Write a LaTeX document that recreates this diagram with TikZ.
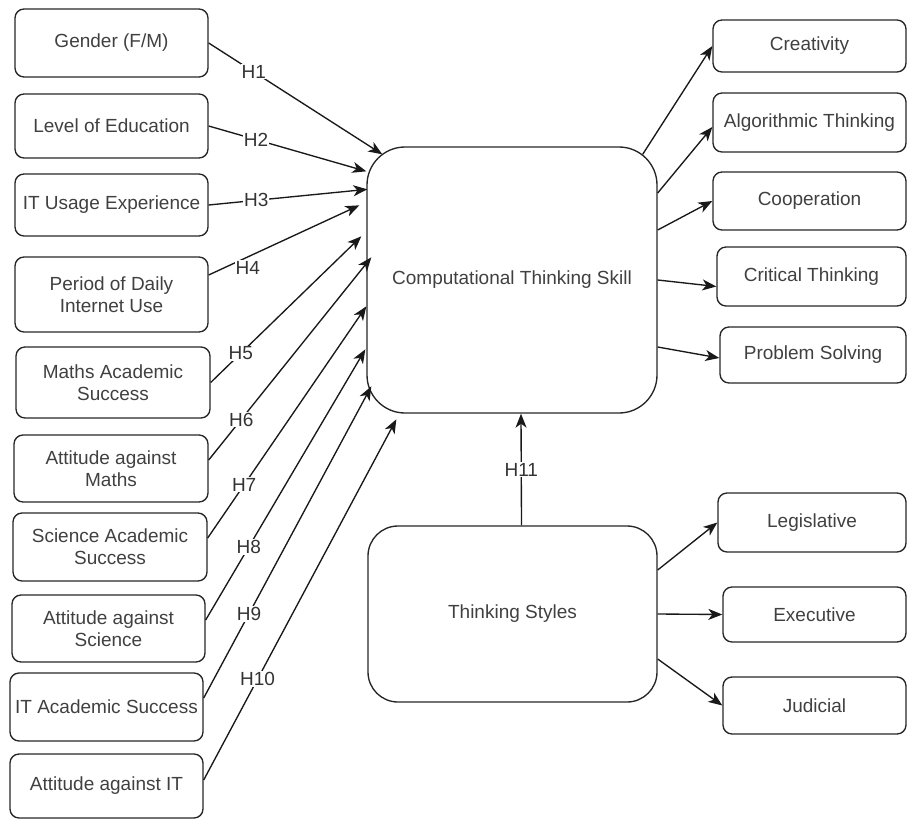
\documentclass[tikz,border=0pt]{standalone}
\usepackage{fontspec}
\setmainfont{Liberation Sans}
\usetikzlibrary{positioning,arrows.meta,calc}

\begin{document}
\begin{tikzpicture}[x=1pt, y=-1pt, font=\fontsize{19}{22}\selectfont,
  >={Stealth[length=14pt, width=11pt, inset=4pt]}, line width=1.35pt,
  box/.style={draw=black!85, rounded corners=9pt, align=center, text=black!75, inner sep=1pt},
  hyp/.style={fill=white, inner sep=1pt, text=black!80},
  link/.style={->, black!90}]
  \useasboundingbox (0,0) rectangle (907,819);
  % factors on the left
  \node[box, minimum width=193, minimum height=68] (gender)   at (111.5,43)  {Gender (F/M)};
  \node[box, minimum width=193, minimum height=64] (edu)      at (111.5,126) {Level of Education};
  \node[box, minimum width=193, minimum height=62] (itexp)    at (111.5,205) {IT Usage Experience};
  \node[box, minimum width=193, minimum height=75] (period)   at (111.5,294.5) {Period of Daily\\Internet Use};
  \node[box, minimum width=194, minimum height=71] (maths)    at (113,382.5) {Maths Academic\\Success};
  \node[box, minimum width=194, minimum height=67] (attmaths) at (111,468.5) {Attitude against\\Maths};
  \node[box, minimum width=194, minimum height=68] (science)  at (110,547)   {Science Academic\\Success};
  \node[box, minimum width=193, minimum height=67] (attsci)   at (108.5,628.5) {Attitude against\\Science};
  \node[box, minimum width=193, minimum height=68] (itacad)   at (106.5,707) {IT Academic Success};
  \node[box, minimum width=193, minimum height=64] (attit)    at (106.5,786) {Attitude against IT};
  % main constructs
  \node[box, rounded corners=38pt, minimum width=290, minimum height=266] (cts) at (512,280) {Computational Thinking Skill};
  \node[box, rounded corners=30pt, minimum width=289, minimum height=176] (ts)  at (512.5,614) {Thinking Styles};
  % sub-skills on the right
  \node[box, minimum width=193, minimum height=52] (creat) at (809.5,46)  {Creativity};
  \node[box, minimum width=193, minimum height=59] (algo)  at (809.5,122.5) {Algorithmic Thinking};
  \node[box, minimum width=193, minimum height=58] (coop)  at (809.5,201) {Cooperation};
  \node[box, minimum width=189, minimum height=59] (crit)  at (811.5,276.5) {Critical Thinking};
  \node[box, minimum width=186, minimum height=56] (prob)  at (813,355)   {Problem Solving};
  \node[box, minimum width=188, minimum height=59] (legis) at (812,522.5) {Legislative};
  \node[box, minimum width=183, minimum height=55] (exec)  at (814.5,614.5) {Executive};
  \node[box, minimum width=183, minimum height=57] (judic) at (814.5,705.5) {Judicial};

  % hypotheses
  \draw[link] (gender.east) -- node[hyp, pos=0.26] (h1) {H1} ($(cts.north west)+(16,8)$);
  \draw[link] (edu.east) -- node[hyp, pos=0.30] (h2) {H2} ($(cts.north west)+(0,25)$);
  \draw[link] (itexp.east) -- node[hyp, pos=0.30] (h3) {H3} ($(cts.north west)+(1,43)$);
  \draw[link] ([yshift=19.5pt]period.east) -- node[hyp, pos=0.26, yshift=-11pt] (h4) {H4} ($(cts.north west)+(-7,59)$);
  \draw[link] (maths.east) -- node[hyp, pos=0.2] (h5) {H5} ($(cts.north west)+(-5,90)$);
  \draw[link] ([yshift=8.5pt]attmaths.east) -- node[hyp, pos=0.2] (h6) {H6} ($(cts.north west)+(5,111)$);
  \draw[link] ([yshift=9pt]science.east) -- node[hyp, pos=0.23] (h7) {H7} ($(cts.north west)+(0,160)$);
  \draw[link] ([yshift=8.5pt]attsci.east) -- node[hyp, pos=0.27] (h8) {H8} ($(cts.north west)+(-1,203)$);
  \draw[link] ([yshift=9pt]itacad.east) -- node[hyp, pos=0.27] (h9) {H9} ($(cts.north west)+(5,240)$);
  \draw[link] ([yshift=6pt]attit.east) -- node[hyp, pos=0.28] (h10) {H10} ($(cts.north west)+(30,273)$);
  \draw[link] ([xshift=9pt]ts.north) -- node[hyp, pos=0.5] (h11) {H11} ([xshift=9pt]cts.south);

  % sub-dimensions
  \draw[link] ($(cts.north east)+(-15,8)$) -- (creat.west);
  \draw[link] ($(cts.east)+(0,-87)$) -- ([yshift=-4.5pt]algo.west);
  \draw[link] ($(cts.east)+(0,-50)$) -- (coop.west);
  \draw[link] (cts.east) -- ([yshift=-10pt]crit.west);
  \draw[link] ($(cts.east)+(0,67)$) -- ([yshift=-3pt]prob.west);
  \draw[link] ([yshift=44pt]ts.east) -- (legis.west);
  \draw[link] (ts.east) -- (exec.west);
  \draw[link] ([yshift=-45pt]ts.east) -- (judic.west);
\end{tikzpicture}
\end{document}
